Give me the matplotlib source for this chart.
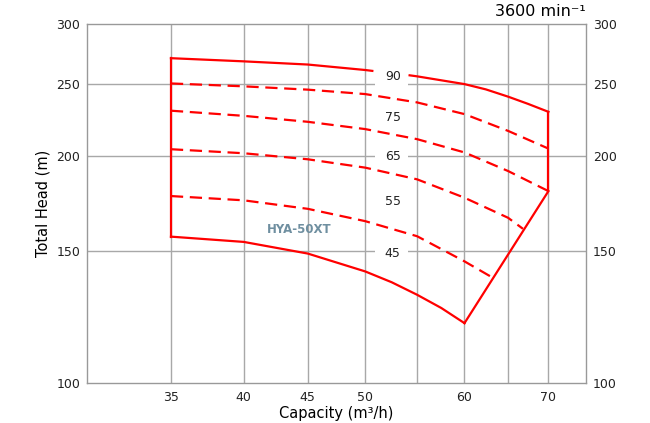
import numpy as np
import matplotlib
matplotlib.use("Agg")
import matplotlib.pyplot as plt
from matplotlib.ticker import FixedLocator, FixedFormatter, NullLocator

# eğriler (Q m3/h, H m), resimden okunan değerler
# üst eğri "90" etiketinde kesik, iki parça
q_top = [35, 40, 45, 50, 50.66]
h_top = [270.2, 267.6, 265.0, 260.6, 259.9]
q_top2 = [54.25, 55, 60, 62.4, 65, 67.4, 70]
h_top2 = [256.4, 255.6, 249.6, 245.6, 240.2, 235.0, 229.3]

q_a = [35, 40, 45, 50, 55, 60, 65, 70]
h_a = [250.1, 247.9, 245.4, 242.1, 236.0, 227.7, 216.3, 204.9]

q_b = [35, 40, 45, 50, 55, 60, 65, 70]
h_b = [230.1, 226.5, 222.4, 217.5, 210.9, 202.5, 191.3, 179.9]

q_c = [35, 40, 45, 50, 55, 60, 65, 66.8]
h_c = [204.5, 202.0, 198.3, 193.3, 186.5, 176.3, 165.8, 160.3]

q_d = [35, 40, 45, 50, 55, 60, 63.2]
h_d = [177.2, 174.9, 170.4, 164.1, 156.7, 145.1, 138.0]

q_bot = [35, 40, 45, 50, 52.5, 55, 57.5, 60]
h_bot = [156.5, 154.0, 148.6, 140.7, 136.1, 131.0, 125.8, 120.1]

q_left = [35, 35]
h_left = [156.5, 270.2]
q_right = [70, 70]
h_right = [229.3, 179.9]
q_edge = [60, 70]
h_edge = [120.1, 179.9]

# etiketler
lbl_text = ["90", "75", "65", "55", "45"]
lbl_h = [255.4, 225.4, 199.7, 174.1, 148.6]
lbl_q = 52.6

xticks = [35, 40, 45, 50, 60, 70]
xgrid = [35, 40, 45, 50, 55, 60, 65, 70]
yticks = [100, 150, 200, 250, 300]

RED = "#ff0000"
GRID = "#a8a8a8"

fig = plt.figure(figsize=(6.5, 4.23), dpi=100)
ax = fig.add_axes([87/650, 1-383/423, (586-87)/650, (383-24)/423])
ax.set_xscale("log")
ax.set_yscale("log")
ax.set_xlim(30, 75)
ax.set_ylim(100, 300)

# grid
for x in xgrid:
    ax.axvline(x, color=GRID, lw=1, zorder=0.5)
for y in [150, 200, 250]:
    ax.axhline(y, color=GRID, lw=1, zorder=0.5)

ax.xaxis.set_major_locator(FixedLocator(xticks))
ax.xaxis.set_major_formatter(FixedFormatter([str(v) for v in xticks]))
ax.xaxis.set_minor_locator(NullLocator())
ax.yaxis.set_major_locator(FixedLocator(yticks))
ax.yaxis.set_major_formatter(FixedFormatter([str(v) for v in yticks]))
ax.yaxis.set_minor_locator(NullLocator())
ax.tick_params(axis="both", length=0, labelsize=9, colors="#222222")
ax.tick_params(axis="x", pad=6)
ax.tick_params(axis="y", pad=5, labelright=True)
for s in ax.spines.values():
    s.set_color("#999999")
    s.set_linewidth(1)

# çizgiler
solid = dict(color=RED, lw=1.6, zorder=2, solid_joinstyle="round")
dash = dict(color=RED, lw=1.6, zorder=2, dashes=(5.5, 3))
ax.plot(q_top, h_top, **solid)
ax.plot(q_top2, h_top2, **solid)
ax.plot(q_bot, h_bot, **solid)
ax.plot(q_left, h_left, **solid)
ax.plot(q_right, h_right, **solid)
ax.plot(q_edge, h_edge, **solid)
for q, h in [(q_a, h_a), (q_b, h_b), (q_c, h_c), (q_d, h_d)]:
    ax.plot(q, h, **dash)

# etiket kutulari
for t, h in zip(lbl_text, lbl_h):
    ax.fill_between([50.9, 54.05], h / 10**0.012, h * 10**0.012,
                    color="white", lw=0, zorder=3)
    ax.text(lbl_q, h, t, ha="center", va="center", fontsize=9,
            color="#222222", zorder=4)

ax.text(44.3, 160, "HYA-50XT", ha="center", va="center", fontsize=8.5,
        fontweight="bold", color="#6f8fa0", zorder=4)

ax.set_xlabel("Capacity (m³/h)", fontsize=10.5, labelpad=1)
ax.set_ylabel("Total Head (m)", fontsize=10.5, labelpad=4)
fig.text(586/650, 1-16/423, "3600 min⁻¹", ha="right", va="baseline",
         fontsize=11.5)

plt.savefig("out.png", dpi=100)
